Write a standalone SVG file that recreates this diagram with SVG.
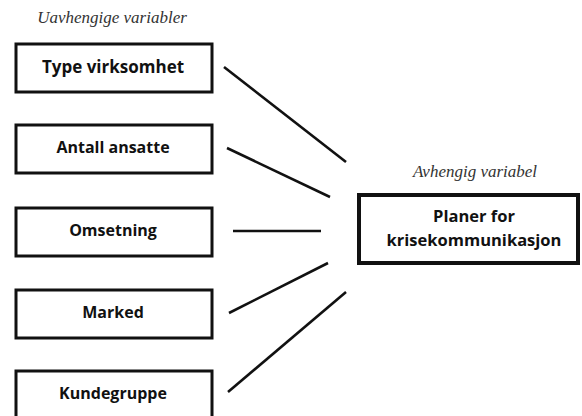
<svg xmlns="http://www.w3.org/2000/svg" width="582" height="416" viewBox="0 0 582 416">
<style>
.box{fill:#fff;stroke:#111;stroke-width:3}
.big{fill:#fff;stroke:#111;stroke-width:4}
.lbl{font-family:"Open Sans","Liberation Sans",sans-serif;font-weight:bold;font-size:16px;fill:#111;text-anchor:middle;dominant-baseline:central}
.cap{font-family:"Liberation Serif",serif;font-style:italic;font-size:17px;fill:#333;text-anchor:middle}
.ln{stroke:#111;stroke-width:2.6;stroke-linecap:butt}
</style>
<rect width="582" height="416" fill="#fff"/>
<text class="cap" x="112" y="23">Uavhengige variabler</text>
<text class="cap" x="475" y="177">Avhengig variabel</text>
<g id="n1"><rect class="box" x="16" y="44" width="196" height="48"/><text class="lbl" x="113" y="66" style="font-size:17px">Type virksomhet</text></g>
<g id="n2"><rect class="box" x="16" y="125" width="196" height="48"/><text class="lbl" x="113" y="147">Antall ansatte</text></g>
<g id="n3"><rect class="box" x="16" y="208" width="196" height="48"/><text class="lbl" x="113" y="230">Omsetning</text></g>
<g id="n4"><rect class="box" x="16" y="290" width="196" height="48"/><text class="lbl" x="113" y="312">Marked</text></g>
<g id="n5"><rect class="box" x="16" y="371" width="196" height="50"/><text class="lbl" x="113" y="393">Kundegruppe</text></g>
<g id="n6"><rect class="big" x="359" y="195" width="219" height="68"/><text class="lbl" x="474" y="215" style="font-size:16.5px">Planer for</text><text class="lbl" x="474" y="239" style="font-size:16.5px">krisekommunikasjon</text></g>
<g id="connectors">
<line class="ln" x1="224" y1="67" x2="346" y2="162"/>
<line class="ln" x1="227" y1="148" x2="330" y2="197"/>
<line class="ln" x1="233" y1="231" x2="321" y2="231"/>
<line class="ln" x1="229" y1="313" x2="328" y2="263"/>
<line class="ln" x1="228" y1="392" x2="346" y2="292"/>
</g>
</svg>
